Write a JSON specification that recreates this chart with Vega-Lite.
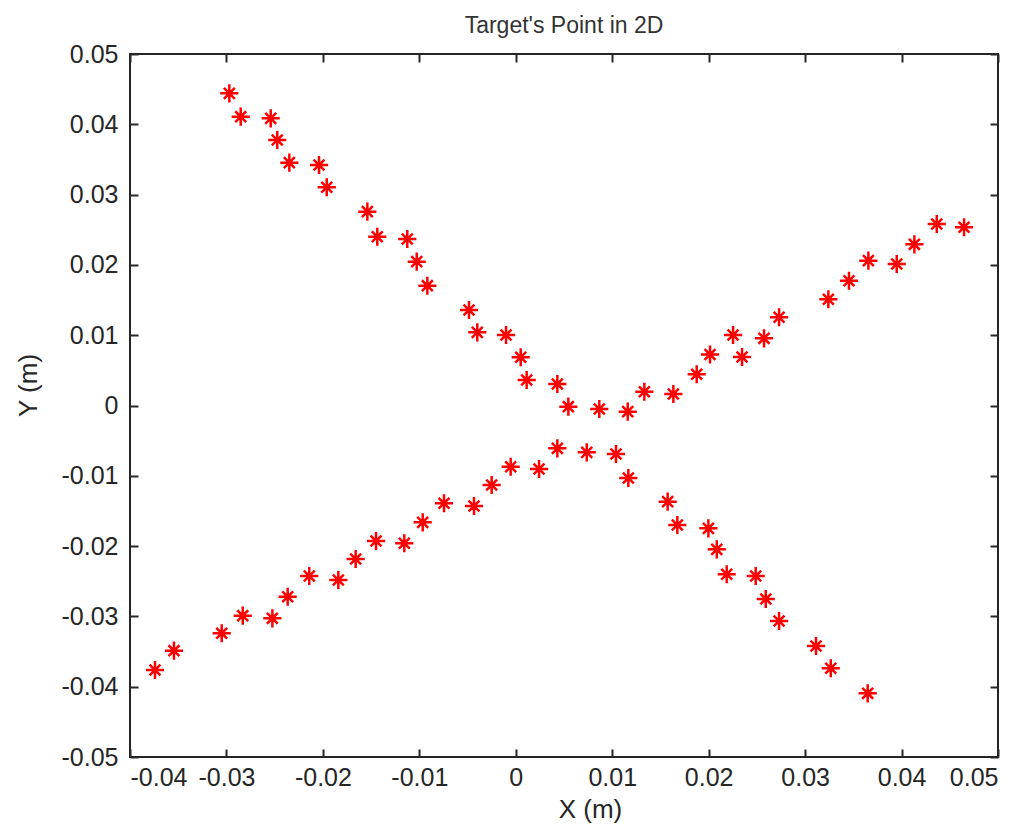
{
  "$schema": "https://vega.github.io/schema/vega-lite/v6.json",
  "width": 868,
  "height": 703,
  "autosize": {"type": "none"},
  "padding": {"left": 130, "top": 54, "right": 31, "bottom": 70},
  "background": "white",
  "title": {"text": "Target's Point in 2D", "fontSize": 23, "font": "Liberation Sans", "fontWeight": "normal", "color": "#333333", "anchor": "middle", "offset": 4},
  "config": {
    "view": {"stroke": "#262626", "strokeWidth": 2},
    "axis": {"grid": false, "domain": false, "tickSize": -8, "tickColor": "#262626", "tickWidth": 2, "labelFont": "Liberation Sans", "labelFontSize": 25, "labelColor": "#262626", "titleFont": "Liberation Sans", "titleFontSize": 26, "titleFontWeight": "normal", "titleColor": "#262626"}
  },
  "data": {"values": [
    {"x": -0.0297, "y": 0.0444}, {"x": -0.02852, "y": 0.04108}, {"x": -0.02541, "y": 0.04085}, {"x": -0.02473, "y": 0.03777},
    {"x": -0.02348, "y": 0.03454}, {"x": -0.0204, "y": 0.03421}, {"x": -0.0196, "y": 0.03104}, {"x": -0.01539, "y": 0.02757},
    {"x": -0.01436, "y": 0.02401}, {"x": -0.01125, "y": 0.02368}, {"x": -0.01027, "y": 0.02046}, {"x": -0.00917, "y": 0.01704},
    {"x": -0.00485, "y": 0.01358}, {"x": -0.00399, "y": 0.01041}, {"x": -0.00101, "y": 0.01003}, {"x": 0.00051, "y": 0.00686},
    {"x": 0.00113, "y": 0.00363}, {"x": 0.00431, "y": 0.00306}, {"x": 0.00545, "y": -0.00017}, {"x": 0.00866, "y": -0.0005},
    {"x": 0.01161, "y": -0.00088}, {"x": 0.01333, "y": 0.00196}, {"x": 0.01634, "y": 0.00164}, {"x": 0.01876, "y": 0.00444},
    {"x": 0.02014, "y": 0.00725}, {"x": 0.02253, "y": 0.01003}, {"x": 0.02346, "y": 0.0069}, {"x": 0.02574, "y": 0.00956},
    {"x": 0.0273, "y": 0.01255}, {"x": 0.03241, "y": 0.01511}, {"x": 0.03455, "y": 0.01775}, {"x": 0.03656, "y": 0.0206},
    {"x": 0.0395, "y": 0.02013}, {"x": 0.04133, "y": 0.02293}, {"x": 0.04365, "y": 0.02582}, {"x": 0.04648, "y": 0.02535},
    {"x": -0.03741, "y": -0.03762}, {"x": -0.03544, "y": -0.03488}, {"x": -0.03049, "y": -0.0324}, {"x": -0.02831, "y": -0.0299},
    {"x": -0.02524, "y": -0.03027}, {"x": -0.02365, "y": -0.0272}, {"x": -0.02141, "y": -0.02425}, {"x": -0.0184, "y": -0.02482},
    {"x": -0.0166, "y": -0.02184}, {"x": -0.01449, "y": -0.01928}, {"x": -0.01156, "y": -0.0196}, {"x": -0.00965, "y": -0.01662},
    {"x": -0.00744, "y": -0.01391}, {"x": -0.00433, "y": -0.0143}, {"x": -0.0025, "y": -0.01131}, {"x": -0.00053, "y": -0.00871},
    {"x": 0.00241, "y": -0.00903}, {"x": 0.00431, "y": -0.00609}, {"x": 0.00736, "y": -0.00666}, {"x": 0.01039, "y": -0.0069},
    {"x": 0.01167, "y": -0.01031}, {"x": 0.01575, "y": -0.01368}, {"x": 0.01675, "y": -0.017}, {"x": 0.01997, "y": -0.01747},
    {"x": 0.02084, "y": -0.02046}, {"x": 0.02187, "y": -0.02401}, {"x": 0.02488, "y": -0.02425}, {"x": 0.02592, "y": -0.02753},
    {"x": 0.0273, "y": -0.03065}, {"x": 0.03113, "y": -0.03421}, {"x": 0.03266, "y": -0.03738}, {"x": 0.03649, "y": -0.04094}
  ]},
  "layer": [
    {
      "mark": {"type": "point", "shape": "M-1,0L1,0M0,-1L0,1M-0.6,-0.6L0.6,0.6M-0.6,0.6L0.6,-0.6", "filled": false, "stroke": "#ff0000", "strokeWidth": 2.5, "size": 330, "opacity": 1},
      "encoding": {
        "x": {"field": "x", "type": "quantitative", "scale": {"domain": [-0.04, 0.05], "nice": false, "zero": false},
          "axis": {"orient": "bottom", "values": [-0.04, -0.03, -0.02, -0.01, 0, 0.01, 0.02, 0.03, 0.04, 0.05], "labelExpr": "replace(format(datum.value, '.2~f'), '\u2212', '-')", "labelPadding": 16, "title": "X  (m)", "titlePadding": 6, "titleX": 460}},
        "y": {"field": "y", "type": "quantitative", "scale": {"domain": [-0.05, 0.05], "nice": false, "zero": false},
          "axis": {"orient": "left", "values": [-0.05, -0.04, -0.03, -0.02, -0.01, 0, 0.01, 0.02, 0.03, 0.04, 0.05], "labelExpr": "replace(format(datum.value, '.2~f'), '\u2212', '-')", "labelPadding": 20, "title": "Y  (m)", "titlePadding": 20, "titleY": 331}}
      }
    },
    {
      "mark": {"type": "point", "opacity": 0},
      "encoding": {
        "x": {"field": "x", "type": "quantitative", "scale": {"domain": [-0.04, 0.05], "nice": false, "zero": false},
          "axis": {"orient": "top", "values": [-0.04, -0.03, -0.02, -0.01, 0, 0.01, 0.02, 0.03, 0.04, 0.05], "labels": false, "title": null}},
        "y": {"field": "y", "type": "quantitative", "scale": {"domain": [-0.05, 0.05], "nice": false, "zero": false},
          "axis": {"orient": "right", "values": [-0.05, -0.04, -0.03, -0.02, -0.01, 0, 0.01, 0.02, 0.03, 0.04, 0.05], "labels": false, "title": null}}
      }
    }
  ],
  "resolve": {"axis": {"x": "independent", "y": "independent"}}
}
